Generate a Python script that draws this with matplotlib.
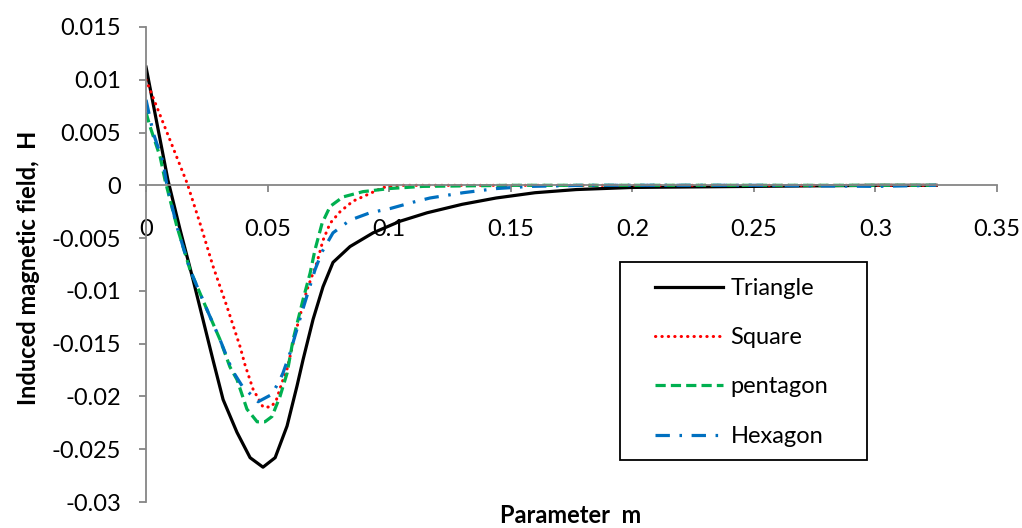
import matplotlib
matplotlib.use('Agg')
from matplotlib import pyplot as plt
from matplotlib.patches import Rectangle

plt.rcParams['font.family'] = ['Lato', 'DejaVu Sans']

# Triangle
tri_x = [0, 0.0090, 0.0140, 0.0193, 0.0234, 0.0276, 0.0317, 0.0374, 0.0428, 0.0481,
         0.0531, 0.0580, 0.0621, 0.0646, 0.0687, 0.0728, 0.0769, 0.0839, 0.0934,
         0.1045, 0.1156, 0.130, 0.144, 0.160, 0.177, 0.200, 0.250, 0.300, 0.325]
tri_y = [0.0112, 0.0005, -0.0042, -0.0089, -0.0127, -0.0166, -0.0203, -0.0234,
         -0.0258, -0.0267, -0.0258, -0.0228, -0.0190, -0.0165, -0.0127, -0.0096,
         -0.0073, -0.0058, -0.0045, -0.0034, -0.0026, -0.0018, -0.0012, -0.0007,
         -0.0004, -0.0002, -0.0001, 0.0, 0.0]

# Square
sq_x = [0, 0.0169, 0.0222, 0.0276, 0.0333, 0.0387, 0.0407, 0.0440, 0.0481, 0.0514,
        0.0535, 0.0559, 0.0580, 0.0620, 0.0662, 0.0703, 0.0728, 0.0757, 0.0798,
        0.0851, 0.0909, 0.0975, 0.1045, 0.150, 0.200, 0.250, 0.300, 0.325]
sq_y = [0.0100, 0.0002, -0.0036, -0.0077, -0.0115, -0.0153, -0.0170, -0.0193,
        -0.0210, -0.0210, -0.0204, -0.0187, -0.0174, -0.0135, -0.0099, -0.0073,
        -0.0052, -0.0036, -0.0025, -0.0015, -0.0009, -0.0002, 0.0, 0.0, 0.0, 0.0,
        0.0, 0.0]

# pentagon
pen_x = [0, 0.0016, 0.0058, 0.0078, 0.0127, 0.0181, 0.0251, 0.0304, 0.0345, 0.0374,
         0.0415, 0.0457, 0.0489, 0.0518, 0.0551, 0.0580, 0.0605, 0.0646, 0.0675,
         0.0695, 0.0724, 0.0757, 0.0810, 0.0892, 0.1004, 0.1139, 0.150, 0.200,
         0.250, 0.300, 0.325]
pen_y = [0.0069, 0.0056, 0.0027, 0.0005, -0.0039, -0.0080, -0.0118, -0.0146, -0.0172,
         -0.0184, -0.0212, -0.0224, -0.0224, -0.0219, -0.0200, -0.0178, -0.0146,
         -0.0108, -0.0083, -0.0061, -0.0036, -0.0020, -0.0011, -0.0006, -0.0003,
         -0.0001, 0.0, 0.0, 0.0, 0.0, 0.0]

# Hexagon
hex_x = [0, 0.0029, 0.0070, 0.0086, 0.0127, 0.0181, 0.0251, 0.0304, 0.0354, 0.0395,
         0.0461, 0.0518, 0.0551, 0.0563, 0.0592, 0.0640, 0.0695, 0.0724, 0.0769,
         0.0839, 0.0921, 0.1004, 0.1098, 0.1168, 0.1304, 0.1444, 0.158, 0.180,
         0.250, 0.300, 0.325]
hex_y = [0.0081, 0.0050, 0.0022, 0.0, -0.0039, -0.0080, -0.0118, -0.0146, -0.0175,
         -0.0190, -0.0205, -0.0198, -0.0184, -0.0178, -0.0159, -0.0121, -0.0080,
         -0.0063, -0.0045, -0.0033, -0.0026, -0.0022, -0.0016, -0.0012, -0.0007,
         -0.0003, -0.0001, 0.0, 0.0, -0.0001, 0.0]

x_ticks = [0, 0.05, 0.1, 0.15, 0.2, 0.25, 0.3, 0.35]
x_labels = ['0', '0.05', '0.1', '0.15', '0.2', '0.25', '0.3', '0.35']
y_ticks = [0.015, 0.01, 0.005, 0, -0.005, -0.01, -0.015, -0.02, -0.025, -0.03]
y_labels = ['0.015', '0.01', '0.005', '0', '-0.005', '-0.01', '-0.015', '-0.02',
            '-0.025', '-0.03']

fig = plt.figure(figsize=(10.22, 5.28), dpi=100)
ax = fig.add_axes([0.1429, 0.0492, 0.8326, 0.8997])

ax.plot(tri_x, tri_y, color='black', lw=2.3, label='Triangle')
ax.plot(sq_x, sq_y, color='#FF0000', lw=2.2, linestyle=(0, (0.1, 2.0)),
        dash_capstyle='round', label='Square')
ax.plot(pen_x, pen_y, color='#00B050', lw=2.3, linestyle=(0, (3.2, 1.6)),
        label='pentagon')
ax.plot(hex_x, hex_y, color='#0070C0', lw=2.3, linestyle=(0, (4.5, 3.0, 0.8, 3.0)),
        label='Hexagon')

ax.set_xlim(0, 0.35)
ax.set_ylim(-0.03, 0.015)
ax.set_xticks(x_ticks)
ax.set_xticklabels(x_labels)
ax.set_yticks(y_ticks)
ax.set_yticklabels(y_labels)

axis_gray = '#868686'
ax.spines['left'].set_position(('data', 0))
ax.spines['bottom'].set_position(('data', 0))
ax.spines['top'].set_visible(False)
ax.spines['right'].set_visible(False)
for s in ('left', 'bottom'):
    ax.spines[s].set_color(axis_gray)
    ax.spines[s].set_linewidth(1.3)
ax.tick_params(axis='x', direction='out', length=5, width=1.3, color=axis_gray,
               labelsize=17, pad=19)
ax.tick_params(axis='y', direction='out', length=5, width=1.3, color=axis_gray,
               labelsize=17, pad=13)

fig.text(0.0274, 0.492, 'Induced magnetic field,  H', rotation=90, fontsize=17,
         fontweight='bold', ha='center', va='center')
fig.text(0.5587, 0.024, 'Parameter  m', fontsize=17, fontweight='bold',
         ha='center', va='center')

ax.add_patch(Rectangle((0.557, 0.088), 0.29, 0.417, transform=ax.transAxes,
                       fill=False, ec='black', lw=1.3, clip_on=False, zorder=5))
ax.legend(loc='upper left', bbox_to_anchor=(0.598, 0.472), frameon=False,
          fontsize=17, borderpad=0, borderaxespad=0, handlelength=2.9,
          handletextpad=0.3, labelspacing=1.2)

plt.savefig('out.png', dpi=100)
